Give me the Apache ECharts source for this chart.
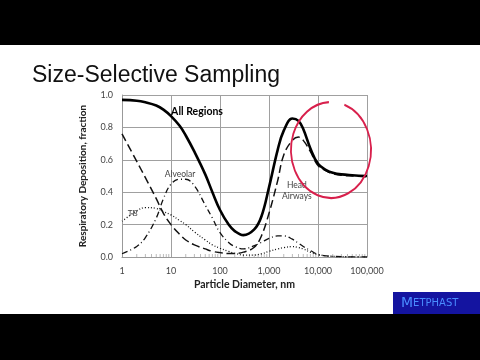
<!DOCTYPE html>
<html><head><meta charset="utf-8">
<script src="https://cdn.jsdelivr.net/npm/echarts@6/dist/echarts.min.js"></script>
<style>
html,body{margin:0;padding:0;background:#000;}
#slide{position:absolute;left:0;top:45px;width:480px;height:269px;background:#fff;}
#c{position:absolute;left:0;top:0;width:480px;height:360px;}
</style></head>
<body><div id="slide"></div><div id="c"></div>
<script>
// Particle diameter, nm
const diameters = [1,2,3,5,7,10,15,20,30,50,70,100,150,200,300,500,700,1000,1500,2000,3000,4000,5000,7000,10000,15000,20000,30000,50000,100000];
const allRegions = [0.97,0.965,0.955,0.935,0.91,0.87,0.81,0.75,0.65,0.51,0.40,0.29,0.20,0.16,0.135,0.17,0.25,0.43,0.66,0.78,0.855,0.84,0.79,0.67,0.575,0.535,0.52,0.51,0.505,0.50];
const headAirways = [0.76,0.59,0.49,0.36,0.27,0.20,0.14,0.105,0.075,0.05,0.035,0.027,0.022,0.022,0.03,0.06,0.13,0.27,0.47,0.63,0.72,0.74,0.72,0.65,0.565,0.53,0.515,0.505,0.50,0.495];
const alveolar = [0.02,0.065,0.12,0.24,0.36,0.45,0.48,0.48,0.44,0.32,0.24,0.15,0.09,0.065,0.05,0.07,0.09,0.115,0.13,0.13,0.11,0.085,0.065,0.04,0.015,0.007,0.004,0.002,0.001,0];
const tb = [0.22,0.285,0.305,0.30,0.28,0.26,0.225,0.20,0.155,0.105,0.075,0.054,0.035,0.023,0.012,0.012,0.02,0.035,0.05,0.058,0.064,0.058,0.05,0.03,0.015,0.007,0.004,0.002,0.001,0];
const xTickLabels = {1:'1',10:'10',100:'100',1000:'1,000',10000:'10,000',100000:'100,000'};
const minorTicks = [2,3,4,5,6,7,8,9,20,30,40,50,60,70,80,90,200,300,400,500,600,700,800,900,2000,3000,4000,5000,6000,7000,8000,9000,20000,30000,40000,50000,60000,70000,80000,90000];

const pairs = a => diameters.map((d,i)=>[d,a[i]]);
const chart = echarts.init(document.getElementById('c'), null, {renderer:'canvas'});
const lblFont = 'Lato, "Open Sans", sans-serif';
function note(text, coord, style){
  return {coord: coord, symbolSize: 0, label: Object.assign({show:true, formatter:text, position:'inside', fontFamily: lblFont}, style)};
}
chart.setOption({
  backgroundColor: 'transparent',
  animation: false,
  title: {text:'Size-Selective Sampling', left: 27, top: 59,
    textStyle:{fontFamily:'"Liberation Sans", Arial, sans-serif', fontSize:23, fontWeight:'normal', color:'#111'}},
  grid: {left:122, right:113, top:95, bottom:103},
  xAxis: {type:'log', logBase:10, min:1, max:100000,
    name:'Particle Diameter, nm', nameLocation:'middle', nameGap:22,
    nameTextStyle:{fontFamily:lblFont, fontWeight:'bold', fontSize:10.5, color:'#222'},
    axisLine:{lineStyle:{color:'#999', width:1}},
    axisTick:{show:false},
    axisLabel:{formatter: v => xTickLabels[Math.round(v)] || '', fontFamily:lblFont, fontSize:9, color:'#444', margin:10},
    splitLine:{show:true, lineStyle:{color:'#a0a0a0', width:1}}},
  yAxis: {type:'value', min:0, max:1, interval:0.2,
    name:'Respiratory Deposition, fraction', nameLocation:'middle', nameGap:34,
    nameTextStyle:{fontFamily:lblFont, fontWeight:'bold', fontSize:10, color:'#222'},
    axisLine:{show:true, lineStyle:{color:'#999'}},
    axisTick:{show:false},
    axisLabel:{formatter: v => v.toFixed(1), fontFamily:lblFont, fontSize:9, color:'#444', margin:9},
    splitLine:{show:true, lineStyle:{color:'#a0a0a0', width:1}}},
  series: [
    {type:'scatter', silent:true, symbol:'rect', symbolSize:[1,3], symbolOffset:[0,-1.5],
     itemStyle:{color:'#aaa'}, data: minorTicks.map(v=>[v,0]), z:1},
    {name:'TB', type:'line', smooth:0.4, showSymbol:false, data:pairs(tb),
     lineStyle:{color:'#111', width:1.3, type:[1,2]},
     markPoint:{data:[note('TB',[1.65,0.27],{fontSize:8,color:'#444'})]}},
    {name:'Alveolar', type:'line', smooth:0.4, showSymbol:false, data:pairs(alveolar),
     lineStyle:{color:'#111', width:1.3, type:[6,3,1,3]},
     markPoint:{data:[note('Alveolar',[15.3,0.51],{fontSize:8.5,color:'#444'})]}},
    {name:'Head Airways', type:'line', smooth:0.4, showSymbol:false, data:pairs(headAirways),
     lineStyle:{color:'#111', width:1.5, type:[8,4]},
     markPoint:{data:[note('Head\nAirways',[3700,0.41],{fontSize:8.5,color:'#444',align:'center',lineHeight:11})]}},
    {name:'All Regions', type:'line', smooth:0.4, showSymbol:false, data:pairs(allRegions),
     lineStyle:{color:'#000', width:2.6},
     markPoint:{data:[note('All Regions',[34,0.9],{fontSize:10.5,fontWeight:'bold',color:'#000'})]}}
  ],
  graphic: [
    {type:'arc', x:331, y:150, scaleY:1.2, shape:{cx:0, cy:0, r:40, startAngle:-1.23, endAngle:4.66, clockwise:true},
     style:{stroke:'#d8204c', lineWidth:1.8, fill:null}, z:100},
    {type:'rect', shape:{x:393, y:292, width:87, height:22}, style:{fill:'#1414a0'}, z:100},
    {type:'text', x:401, y:303, z:101,
     style:{text:'{a|M}{b|ETPHAST}', verticalAlign:'middle', fill:'#4a8cff',
       rich:{a:{fontSize:14, fontFamily:'"DejaVu Sans", sans-serif', fill:'#4a8cff'},
             b:{fontSize:10, fontFamily:'"DejaVu Sans", sans-serif', fill:'#4a8cff'}}}}
  ]
});
</script></body></html>
